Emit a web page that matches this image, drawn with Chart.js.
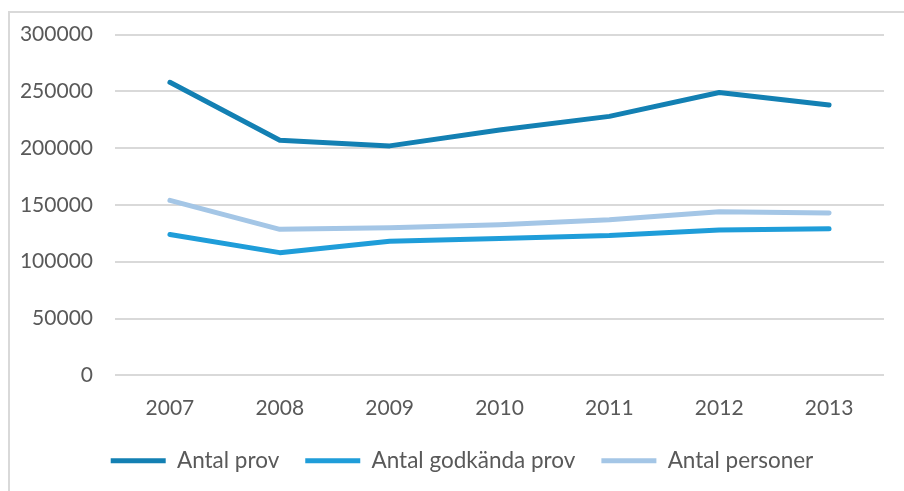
<!DOCTYPE html>
<html>
<head>
<meta charset="utf-8">
<script src="https://cdn.jsdelivr.net/npm/chart.js@4/dist/chart.umd.min.js"></script>
<style>
  html, body { margin: 0; padding: 0; background: #fff; }
  #wrap { position: relative; width: 904px; height: 491px; }
  #frame { position: absolute; left: 8px; top: 11px; right: -10px; bottom: -10px;
           border-top: 2px solid #d9d9d9; border-left: 2px solid #d9d9d9; }
  #chart { position: absolute; left: 0; top: 0; }
</style>
</head>
<body>
<div id="wrap">
  <div id="frame"></div>
  <canvas id="chart" width="904" height="491"></canvas>
</div>
<script>
var years = ['2007', '2008', '2009', '2010', '2011', '2012', '2013']
var antalProv = [258000, 207000, 202000, 216000, 228000, 249000, 238000]
var antalGodkanda = [124000, 108000, 118000, 120500, 123000, 128000, 129000]
var antalPersoner = [154000, 128500, 130000, 132500, 137000, 144000, 143000]

var textColor = '#595959'
var gridColor = '#d9d9d9'

function serie(label, data, color) {
  return {
    label: label,
    data: data,
    borderColor: color,
    backgroundColor: color,
    borderWidth: 5,
    borderCapStyle: 'round',
    borderJoinStyle: 'round',
    pointRadius: 0,
    tension: 0
  }
}

// legend sits a bit right of the canvas centre
var legendShift = {
  id: 'legendShift',
  afterLayout: function(chart) {
    chart.legend.left += 12
    chart.legend.right += 12
  }
}

new Chart(document.getElementById('chart'), {
  type: 'line',
  data: {
    labels: years,
    datasets: [
      serie('Antal prov', antalProv, '#1380b3'),
      serie('Antal godkända prov', antalGodkanda, '#1f9dd9'),
      serie('Antal personer', antalPersoner, '#a4c6e6')
    ]
  },
  plugins: [legendShift],
  options: {
    responsive: false,
    animation: false,
    layout: { padding: { left: 16, right: 20, top: 23, bottom: 9 } },
    scales: {
      x: {
        offset: true,
        grid: { display: false, drawTicks: false },
        border: { display: false },
        ticks: { color: textColor, font: { family: 'Lato', size: 21 }, padding: 20 },
        afterFit: function(axis) { axis.height -= 17 }
      },
      y: {
        min: 0,
        max: 300000,
        grid: { color: gridColor, lineWidth: 2, drawTicks: false },
        border: { display: false },
        ticks: {
          stepSize: 50000,
          color: textColor,
          font: { family: 'Lato', size: 21 },
          padding: 22,
          callback: function(v) { return String(v) }
        },
        afterFit: function(axis) { axis.width = 99 }
      }
    },
    plugins: {
      legend: {
        position: 'bottom',
        labels: {
          color: textColor,
          font: { family: 'Lato', size: 22.5 },
          boxWidth: 55,
          boxHeight: 5,
          padding: 26,
          generateLabels: function(chart) {
            return chart.data.datasets.map(function(ds, i) {
              return {
                text: ds.label,
                fillStyle: ds.borderColor,
                strokeStyle: ds.borderColor,
                lineWidth: 0,
                fontColor: textColor,
                datasetIndex: i
              }
            })
          }
        }
      },
      tooltip: { enabled: false }
    }
  }
})
</script>
</body>
</html>
